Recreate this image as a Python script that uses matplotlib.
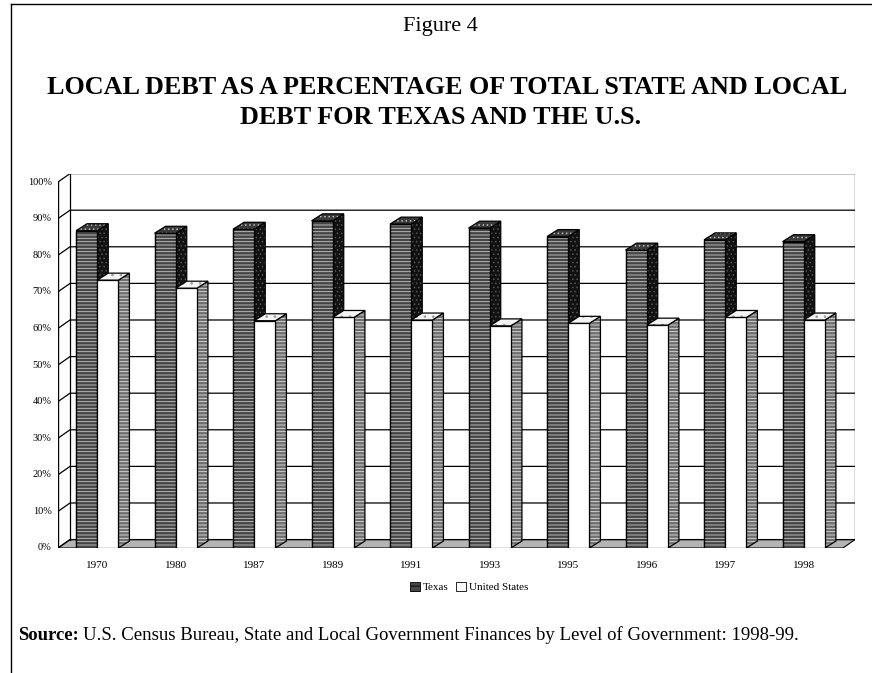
import numpy as np
import matplotlib
matplotlib.use("Agg")
import matplotlib.pyplot as plt
from matplotlib.patches import Polygon, Patch

years = ["1970", "1980", "1987", "1989", "1991", "1993", "1995", "1996", "1997", "1998"]
texas = [86.7, 86.0, 87.1, 89.4, 88.5, 87.4, 85.1, 81.4, 84.2, 83.7]
us = [73.2, 71.0, 62.1, 63.0, 62.3, 60.7, 61.4, 60.9, 63.0, 62.3]
yticks = [0, 10, 20, 30, 40, 50, 60, 70, 80, 90, 100]

W, H = 872, 673
plt.rcParams['font.family'] = ['Liberation Serif', 'DejaVu Serif']
plt.rcParams['hatch.linewidth'] = 0.6
fig = plt.figure(figsize=(W / 100, H / 100), dpi=100)

# plot area in pixels (front 0% .. wall top)
left, right, bottom, top = 58, 855, 548, 173.6
ax = fig.add_axes([left / W, 1 - bottom / H, (right - left) / W, (bottom - top) / H])
ax.set_axis_off()

n = len(years)
bw = 0.27
dx, dy = 0.14, 1.9      # bar depth
dxw, dyw = 0.153, 2.3   # wall depth
x0, x1 = -0.5, n - 0.5
ax.set_xlim(x0, x1 + dxw)
ax.set_ylim(0, 100 + dyw)

# floor
floor = [(x0, 0), (x1, 0), (x1 + dxw, dyw), (x0 + dxw, dyw)]
ax.add_patch(Polygon(floor, closed=True, facecolor="#b4b4b4", edgecolor="black", lw=0.8, zorder=1))
# walls and grid
for v in yticks:
    ax.plot([x0, x0 + dxw, x1 + dxw], [v, v + dyw, v + dyw], color="black", lw=0.9, zorder=1)
ax.plot([x0, x0], [0, 100], color="black", lw=1.0, zorder=1)
ax.plot([x0 + dxw, x0 + dxw], [dyw, 100 + dyw], color="black", lw=0.9, zorder=1)
ax.plot([x1 + dxw, x1 + dxw], [dyw, 100 + dyw], color="black", lw=0.9, zorder=1)
for v in yticks:
    ax.text(x0 - 0.08, v, f"{v}%", ha="right", va="center", fontsize=7.5)


def face(pts, fc, hc, hatch, z):
    ax.add_patch(Polygon(pts, closed=True, facecolor=fc, edgecolor="none", lw=0, zorder=z))
    if hatch:
        ax.add_patch(Polygon(pts, closed=True, facecolor="none", edgecolor=hc, hatch=hatch, lw=0, zorder=z))
    ax.add_patch(Polygon(pts, closed=True, facecolor="none", edgecolor="black", lw=0.9, zorder=z))


def bar3d(xl, h, style, z):
    xr = xl + bw
    side = [(xr, 0), (xr + dx, dy), (xr + dx, h + dy), (xr, h)]
    top_ = [(xl, h), (xl + dx, h + dy), (xr + dx, h + dy), (xr, h)]
    if style == "tx":
        face(side, "#111111", "#555555", "....", z)
        ax.bar(xl, h, width=bw, align="edge", color="#464646", edgecolor="black", lw=0.9, zorder=z)
        ax.bar(xl, h, width=bw, align="edge", color="none", edgecolor="#c8c8c8", hatch="-----", lw=0, zorder=z)
        ax.bar(xl, h, width=bw, align="edge", color="none", edgecolor="black", lw=0.9, zorder=z)
        face(top_, "#3a3a3a", "#bbbbbb", "....", z)
    else:
        face(side, "#6e6e6e", "#e0e0e0", "-----", z)
        ax.bar(xl, h, width=bw, align="edge", color="white", edgecolor="black", lw=0.9, zorder=z)
        face(top_, "#f4f4f4", "#999999", "..", z)


for i in range(n):
    bar3d(i - bw, texas[i], "tx", 2 + 2 * i)
    bar3d(i, us[i], "us", 3 + 2 * i)

for i, yr in enumerate(years):
    ax.text(i, -3.5, yr, ha="center", va="top", fontsize=8)

handles = [Patch(facecolor="#464646", edgecolor="black", lw=0.6, hatch="---"),
           Patch(facecolor="white", edgecolor="black", lw=0.6)]
fig.legend(handles, ["Texas", "United States"], loc="center", ncol=2, frameon=False,
           bbox_to_anchor=(469 / W, 1 - 587 / H), fontsize=8, handlelength=0.9,
           handleheight=0.9, handletextpad=0.3, columnspacing=0.6)

# page text
fig.text(440 / W, 1 - 27 / H, "Figure 4", ha="center", va="center", fontsize=16)
fig.text(447 / W, 1 - 87 / H, "LOCAL DEBT AS A PERCENTAGE OF TOTAL STATE AND LOCAL",
         ha="center", va="center", fontsize=18.8, fontweight="bold")
fig.text(441 / W, 1 - 118 / H, "DEBT FOR TEXAS AND THE U.S.",
         ha="center", va="center", fontsize=18.8, fontweight="bold")
src = fig.text(18 / W, 1 - 635 / H, "Source:", ha="left", va="center", fontsize=13.5, fontweight="bold")
fig.canvas.draw()
bb = src.get_window_extent(fig.canvas.get_renderer())
fig.text(bb.x1 / W + 4 / W, 1 - 635 / H,
         "U.S. Census Bureau, State and Local Government Finances by Level of Government: 1998-99.",
         ha="left", va="center", fontsize=13.5)

# page border
fig.add_artist(plt.Line2D([11 / W, 1], [1 - 4 / H, 1 - 4 / H], color="black", lw=1.0))
fig.add_artist(plt.Line2D([11 / W, 11 / W], [1 - 4 / H, 0], color="black", lw=1.0))

fig.savefig("out.png", dpi=100)
